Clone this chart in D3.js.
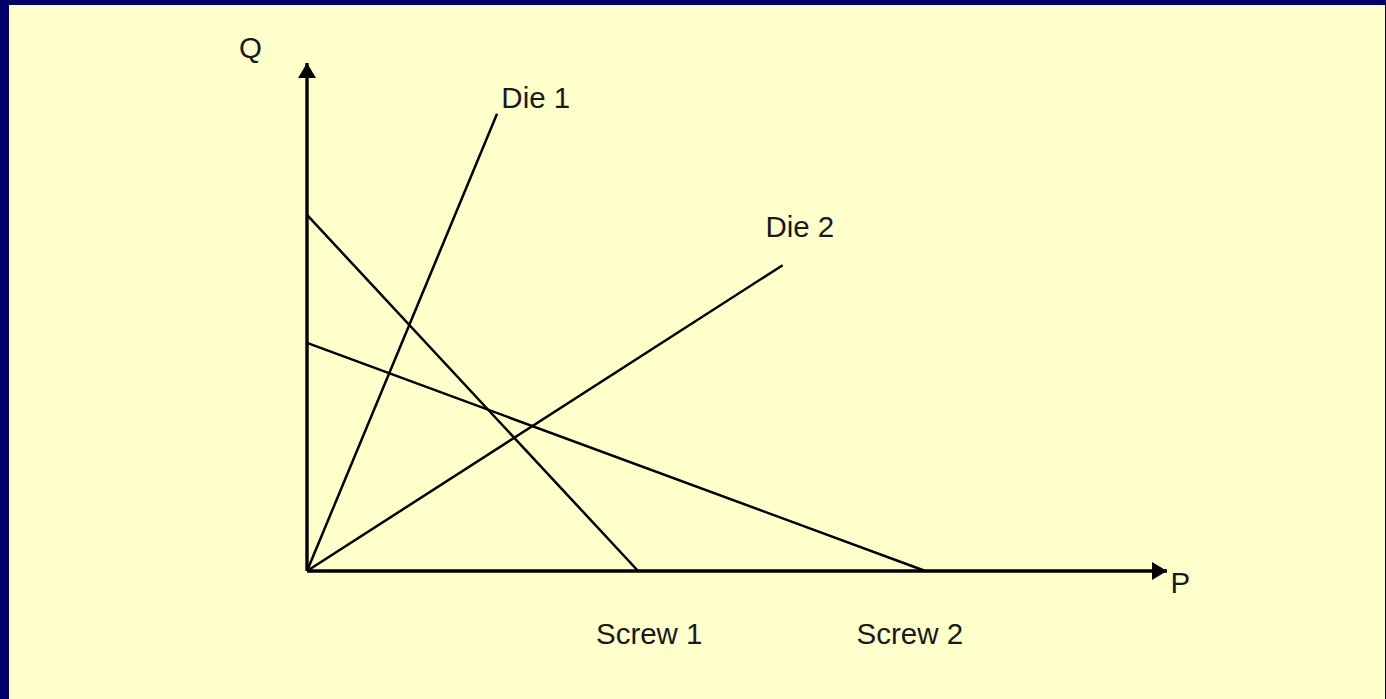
<!DOCTYPE html>
<html>
<head>
<meta charset="utf-8">
<script src="https://cdn.jsdelivr.net/npm/d3@7"></script>
<style>
  html, body { margin: 0; padding: 0; background: #000066; }
  svg { display: block; }
</style>
</head>
<body>
<div id="chart"></div>
<script>
// data (in chart units: P along x, Q along y)
let lineNames = ["Die 1", "Die 2", "Screw 1", "Screw 2"];
let lineStartP = [0, 0, 0, 0];
let lineStartQ = [0, 0, 7.01, 4.49];
let lineEndP = [2.21, 5.53, 3.85, 7.19];
let lineEndQ = [9.0, 6.02, 0, 0];

let labelText = ["Q", "P", "Die 1", "Die 2", "Screw 1", "Screw 2"];
let labelP = [-0.79, 10.04, 2.26, 5.33, 3.36, 6.39];
let labelQ = [10.1, -0.43, 9.11, 6.58, -1.44, -1.44];

// specs
let width = 1386, height = 699;
let plotLeft = 307, plotRight = 1167, plotBottom = 571, plotTop = 63;

let svg = d3.select("#chart").append("svg")
  .attr("width", width)
  .attr("height", height);

// page background with navy frame
svg.append("rect").attr("width", width).attr("height", height).style("fill", "#000066");
svg.append("rect").attr("x", 9).attr("y", 5).attr("width", width - 10).attr("height", height - 5)
  .style("fill", "#ffffcc");

// scales
let xScale = d3.scaleLinear().domain([0, 10]).range([plotLeft, plotRight]);
let yScale = d3.scaleLinear().domain([0, 10]).range([plotBottom, plotTop]);

// arrow heads
let defs = svg.append("defs");
defs.append("marker")
  .attr("id", "arrow")
  .attr("viewBox", "0 0 15 18")
  .attr("refX", 15).attr("refY", 9)
  .attr("markerWidth", 15).attr("markerHeight", 18)
  .attr("markerUnits", "userSpaceOnUse")
  .attr("orient", "auto")
  .append("path").attr("d", "M0,0 L15,9 L0,18 Z").style("fill", "#000");

// axes
svg.append("line")
  .attr("x1", xScale(0)).attr("y1", yScale(0))
  .attr("x2", xScale(10)).attr("y2", yScale(0))
  .attr("marker-end", "url(#arrow)")
  .style("stroke", "#000").style("stroke-width", 3.4);
svg.append("line")
  .attr("x1", xScale(0)).attr("y1", yScale(0))
  .attr("x2", xScale(0)).attr("y2", yScale(10))
  .attr("marker-end", "url(#arrow)")
  .style("stroke", "#000").style("stroke-width", 3.4);

// demand / supply lines
let lines = lineNames.map(function(n, i) {
  return { name: n, p0: lineStartP[i], q0: lineStartQ[i], p1: lineEndP[i], q1: lineEndQ[i] };
});
svg.append("g").attr("id", "lines")
  .selectAll("line").data(lines).enter().append("line")
  .attr("x1", function(d) { return xScale(d.p0); })
  .attr("y1", function(d) { return yScale(d.q0); })
  .attr("x2", function(d) { return xScale(d.p1); })
  .attr("y2", function(d) { return yScale(d.q1); })
  .style("stroke", "#000").style("stroke-width", 2.5);

// labels
let labels = labelText.map(function(t, i) { return { t: t, p: labelP[i], q: labelQ[i] }; });
svg.append("g").attr("id", "labels")
  .selectAll("text").data(labels).enter().append("text")
  .attr("x", function(d) { return xScale(d.p); })
  .attr("y", function(d) { return yScale(d.q); })
  .text(function(d) { return d.t; })
  .style("font-family", "'Liberation Sans', Arial, sans-serif")
  .style("font-size", "29.5px")
  .style("fill", "#1a1a1a");
</script>
</body>
</html>
